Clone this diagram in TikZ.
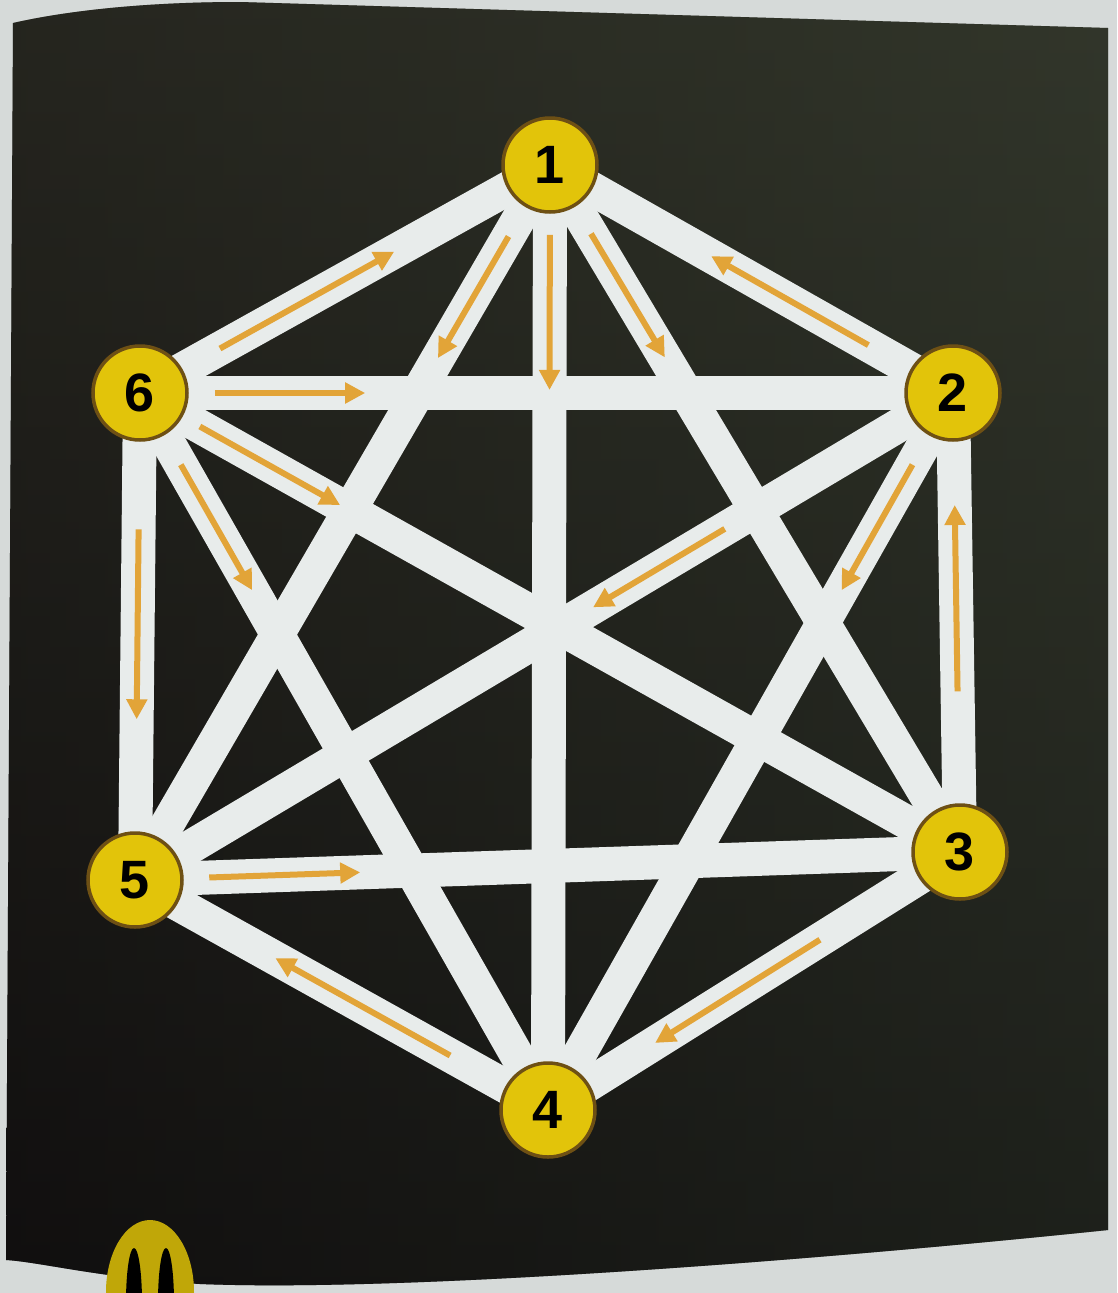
\documentclass[tikz,border=0pt]{standalone}
\usepackage{fontspec}
\setmainfont{Liberation Sans}
\usetikzlibrary{arrows.meta,calc}
\definecolor{pagegray}{RGB}{214,218,217}
\definecolor{darktop}{RGB}{50,53,43}
\definecolor{darkbot}{RGB}{12,12,14}
\definecolor{darkleft}{RGB}{22,18,16}
\definecolor{darkright}{RGB}{50,56,42}
\definecolor{edgewhite}{RGB}{232,236,235}
\definecolor{nodeyellow}{RGB}{226,196,10}
\definecolor{nodering}{RGB}{110,80,20}
\definecolor{arroworange}{RGB}{226,164,56}
\tikzset{
  edgeline/.style={draw=edgewhite,line width=34pt},
  vertex/.style={circle,fill=nodeyellow,draw=nodering,line width=3.5pt,minimum size=94pt,inner sep=0pt,
    font=\fontsize{54}{54}\selectfont\bfseries,text=black},
  flow/.style={draw=arroworange,line width=6pt,-{Triangle[length=20pt,width=20pt]}},
}
\newcommand\darkoutline{(13,23) .. controls (70,10) and (150,2) .. (240,2)
  -- (1108,28) -- (1108,1230)
  .. controls (800,1262) and (400,1292) .. (200,1284)
  .. controls (100,1278) and (40,1262) .. (6,1260) -- cycle}
\begin{document}
\begin{tikzpicture}[x=1pt,y=-1pt]
\useasboundingbox (0,0) rectangle (1117,1293);
% page and dark printed area
\fill[pagegray] (0,0) rectangle (1117,1293);
\shade[top color=darktop,bottom color=darkbot] \darkoutline;
\shade[left color=darkleft,right color=darkright,opacity=0.45] \darkoutline;
% partial yellow mark at bottom-left
\begin{scope}
  \clip (0,1200) rectangle (1117,1293);
  \fill[nodeyellow!85!black] (150,1292) ellipse (44pt and 72pt);
  \fill[black] (134,1302) ellipse (8pt and 54pt);
  \fill[black] (166,1302) ellipse (8pt and 54pt);
\end{scope}
% vertex positions
\coordinate (p1) at (550,165);
\coordinate (p2) at (953,393);
\coordinate (p3) at (960,852);
\coordinate (p4) at (548,1110);
\coordinate (p5) at (135,880);
\coordinate (p6) at (140,393);
% edges of K6
\foreach \a/\b in {1/2,1/3,1/4,1/5,1/6,2/3,2/4,2/5,2/6,3/4,3/5,3/6,4/5,4/6,5/6}
  \draw[edgeline] (p\a) -- (p\b);
% arrows
\draw[flow] ($(p6)!0.195!(p1)$) -- ($(p6)!0.62!(p1)$);
\draw[flow] ($(p2)!0.21!(p1)$) -- ($(p2)!0.60!(p1)$);
\draw[flow] ($(p1)!0.10!(p5)$) -- ($(p1)!0.27!(p5)$);
\draw[flow] ($(p1)!0.074!(p4)$) -- ($(p1)!0.238!(p4)$);
\draw[flow] ($(p1)!0.10!(p3)$) -- ($(p1)!0.28!(p3)$);
\draw[flow] ($(p6)!0.092!(p2)$) -- ($(p6)!0.277!(p2)$);
\draw[flow] ($(p6)!0.073!(p3)$) -- ($(p6)!0.244!(p3)$);
\draw[flow] ($(p6)!0.10!(p4)$) -- ($(p6)!0.275!(p4)$);
\draw[flow] ($(p6)!0.28!(p5)$) -- ($(p6)!0.67!(p5)$);
\draw[flow] ($(p2)!0.279!(p5)$) -- ($(p2)!0.44!(p5)$);
\draw[flow] ($(p2)!0.10!(p4)$) -- ($(p2)!0.275!(p4)$);
\draw[flow] ($(p3)!0.35!(p2)$) -- ($(p3)!0.756!(p2)$);
\draw[flow] ($(p5)!0.09!(p3)$) -- ($(p5)!0.273!(p3)$);
\draw[flow] ($(p4)!0.237!(p5)$) -- ($(p4)!0.66!(p5)$);
\draw[flow] ($(p3)!0.34!(p4)$) -- ($(p3)!0.74!(p4)$);
% vertices
\node[vertex] (n1) at (p1) {1};
\node[vertex] (n2) at (p2) {2};
\node[vertex] (n3) at (p3) {3};
\node[vertex] (n4) at (p4) {4};
\node[vertex] (n5) at (p5) {5};
\node[vertex] (n6) at (p6) {6};
\end{tikzpicture}
\end{document}
